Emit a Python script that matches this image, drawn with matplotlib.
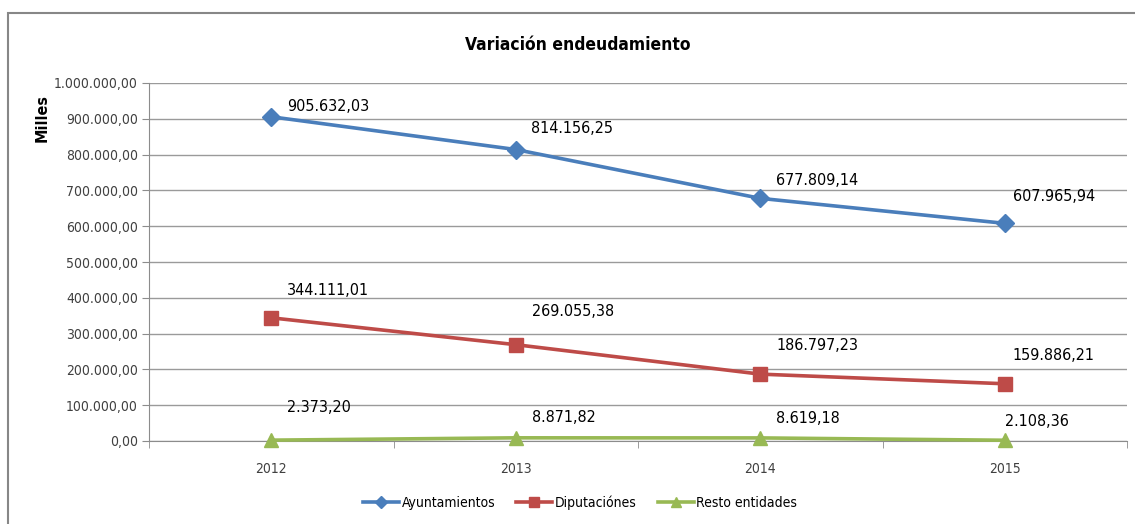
import matplotlib.pyplot as plt
from matplotlib.patches import Rectangle
from matplotlib.ticker import FuncFormatter, FixedLocator
from matplotlib import font_manager

years = ["2012", "2013", "2014", "2015"]
ayuntamientos = [905632.03, 814156.25, 677809.14, 607965.94]
diputaciones = [344111.01, 269055.38, 186797.23, 159886.21]
resto = [2373.20, 8871.82, 8619.18, 2108.36]

names = ["Ayuntamientos", "Diputaciónes", "Resto entidades"]
colors = ["#4A7EBB", "#BE4B48", "#98B954"]
markers = ["D", "s", "^"]

# label offsets in pixels (dx, dy) from the point
label_offsets = [
    [(16, 10), (15, 21), (16, 18), (8, 27)],
    [(16, 27), (16, 33), (16, 29), (8, 28)],
    [(16, 33), (16, 20), (16, 19), (0, 19)],
]

condensed = [f for f in font_manager.fontManager.ttflist
             if "DejaVu Sans" == f.name and f.stretch == "condensed"]
plt.rcParams["font.family"] = ["DejaVu Sans"]
if condensed:
    plt.rcParams["font.stretch"] = "condensed"


def es_fmt(v, pos=None):
    s = f"{v:,.2f}"
    return s.replace(",", "X").replace(".", ",").replace("X", ".")


fig = plt.figure(figsize=(11.35, 5.24), dpi=100)
W, H = 1135, 524
ax = fig.add_axes([149 / W, 1 - 441 / H, (1127 - 149) / W, (441 - 83) / H])

# chart frame
fig.patches.append(Rectangle((8 / W, -0.1), 1.2, 1 - 13 / H + 0.1, transform=fig.transFigure,
                             fill=False, edgecolor="#878787", linewidth=1.5))

x = list(range(len(years)))
series = [ayuntamientos, diputaciones, resto]
msizes = [9.5, 10, 10]
for vals, name, c, m, ms, offs in zip(series, names, colors, markers, msizes, label_offsets):
    ax.plot(x, vals, color=c, marker=m, markersize=ms,
            linewidth=2.6, label=name, clip_on=False, zorder=3)
    for xi, v, (dx, dy) in zip(x, vals, offs):
        ax.annotate(es_fmt(v), (xi, v), xytext=(dx * 0.72, dy * 0.72), textcoords="offset points",
                    ha="left", va="center", fontsize=11.5, color="#000000", zorder=4)

ax.set_xlim(-0.5, 3.5)
ax.set_ylim(0, 1000000)
ax.set_yticks(range(0, 1000001, 100000))
ax.yaxis.set_major_formatter(FuncFormatter(es_fmt))
ax.set_xticks(x)
ax.set_xticklabels(years)
ax.xaxis.set_minor_locator(FixedLocator([i - 0.5 for i in range(len(years) + 1)]))
ax.grid(axis="y", color="#9a9a9a", linewidth=1)
ax.set_axisbelow(True)
for s in ["top", "right"]:
    ax.spines[s].set_visible(False)
ax.spines["left"].set_color("#8c8c8c")
ax.spines["bottom"].set_color("#8c8c8c")
ax.tick_params(axis="y", length=5, color="#8c8c8c", labelsize=10, labelcolor="#404040", pad=3)
ax.tick_params(axis="x", which="major", length=0, labelsize=10, labelcolor="#404040", pad=15)
ax.tick_params(axis="x", which="minor", length=5, color="#8c8c8c")

ax.set_ylabel("Milles", fontsize=11.5, fontweight="bold")
ax.yaxis.set_label_coords(-107 / 978, (441 - 118) / 358)
ax.yaxis.label.set_va("center")

fig.text(578 / W, 1 - 45 / H, "Variación endeudamiento", ha="center", va="center",
         fontsize=12.5, fontweight="bold")

fig.legend(loc="center", bbox_to_anchor=(580 / W, 1 - 503 / H), ncol=3, frameon=False,
           fontsize=10, handlelength=2.6, columnspacing=1.5, handletextpad=0.2,
           markerscale=0.65)

fig.savefig("out.png", dpi=100)
